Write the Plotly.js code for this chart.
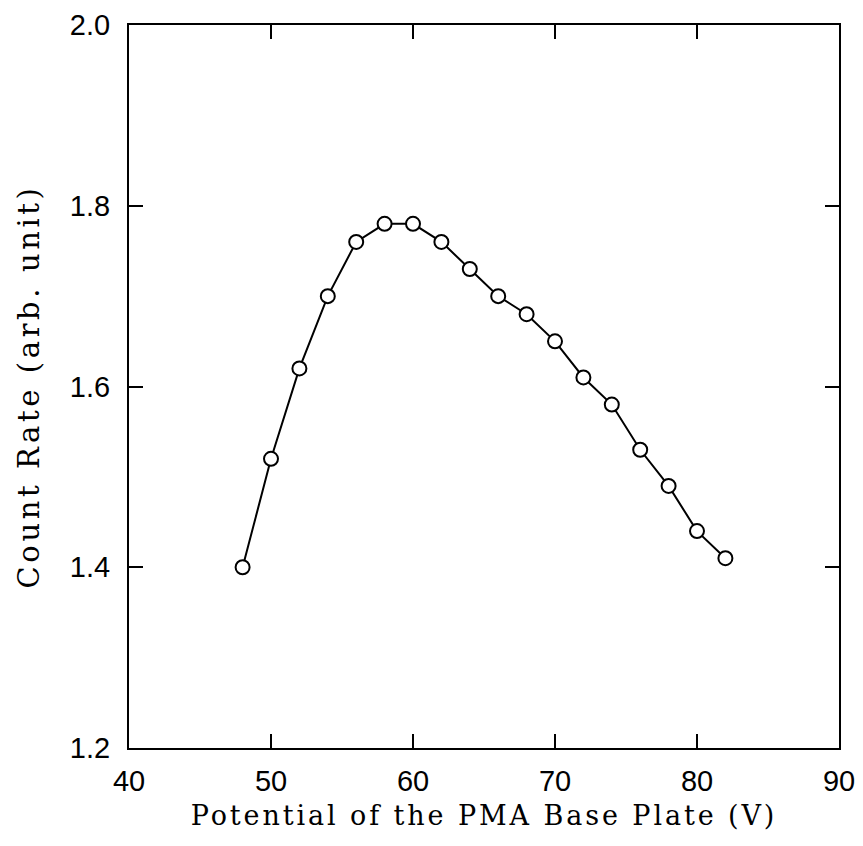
<!DOCTYPE html>
<html>
<head>
<meta charset="utf-8">
<script src="https://cdn.plot.ly/plotly-3.0.1.min.js"></script>
<style>
html,body{margin:0;padding:0;background:#fff;}
#chart{width:863px;height:846px;}
.xtitle{letter-spacing:2.9px;}
.ytitle{letter-spacing:3.6px;}
</style>
</head>
<body>
<div id="chart"></div>
<script>
const potential = [48, 50, 52, 54, 56, 58, 60, 62, 64, 66, 68, 70, 72, 74, 76, 78, 80, 82];
const countRate = [1.40, 1.52, 1.62, 1.70, 1.76, 1.78, 1.78, 1.76, 1.73, 1.70, 1.68, 1.65, 1.61, 1.58, 1.53, 1.49, 1.44, 1.41];
const xTicks = [40, 50, 60, 70, 80, 90];
const yTicks = [1.2, 1.4, 1.6, 1.8, 2.0];
const xLabel = 'Potential of the PMA Base Plate (V)';
const yLabel = 'Count Rate (arb. unit)';

const trace = {
  x: potential, y: countRate, type: 'scatter', mode: 'lines+markers',
  line: {color: '#000', width: 2},
  marker: {symbol: 'circle', size: 14, color: '#fff', line: {color: '#000', width: 2}},
  cliponaxis: false, hoverinfo: 'skip'
};
const axisCommon = {
  showgrid: false, zeroline: false, showline: true, linecolor: '#000', linewidth: 2,
  mirror: 'ticks', ticks: 'inside', ticklen: 14, tickwidth: 2, tickcolor: '#000',
  tickfont: {family: 'Liberation Sans, Arial, sans-serif', size: 29, color: '#000'}
};
const layout = {
  width: 863, height: 846,
  margin: {l: 129, r: 24, t: 25, b: 98},
  paper_bgcolor: '#fff', plot_bgcolor: '#fff', showlegend: false,
  xaxis: Object.assign({}, axisCommon, {
    range: [40, 90], tickvals: xTicks, ticktext: xTicks.map(String),
    ticklabelstandoff: 6,
    title: {text: xLabel, standoff: 10, font: {family: 'DejaVu Serif, serif', size: 27, color: '#000'}}
  }),
  yaxis: Object.assign({}, axisCommon, {
    range: [1.2, 2.0], tickvals: yTicks, ticktext: yTicks.map(v => v.toFixed(1)),
    ticklabelstandoff: 11,
    title: {text: yLabel, standoff: 22, font: {family: 'DejaVu Serif, serif', size: 29, color: '#000'}}
  })
};
Plotly.newPlot('chart', [trace], layout, {displayModeBar: false, staticPlot: true});
</script>
</body>
</html>
